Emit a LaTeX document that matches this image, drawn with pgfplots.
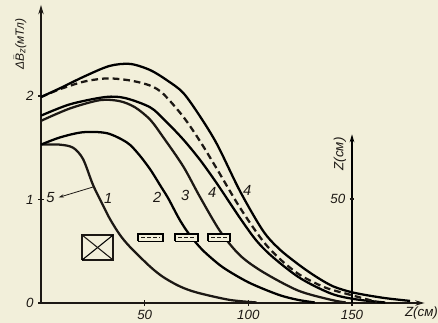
\documentclass[border=0pt]{standalone}
\usepackage{pgfplots}
\pgfplotsset{compat=1.18}
\usepackage{fontspec}
\setmainfont{Liberation Sans}
\usetikzlibrary{arrows.meta}
\definecolor{paper}{RGB}{242,239,218}
\definecolor{ink}{RGB}{28,24,20}

\pgfplotstableread{
x y
0 1.53
9 1.53
15.5 1.50
20.3 1.39
25.1 1.14
30 0.94
33.3 0.81
38 0.66
43 0.54
52.7 0.35
59 0.25
67 0.16
75.4 0.10
91 0.03
104 0.005
}\curveone

\pgfplotstableread{
x y
0 1.53
9.2 1.60
20.3 1.65
31.9 1.64
41.5 1.55
47 1.44
52.7 1.29
58 1.12
61.4 1.01
67 0.80
72 0.65
78 0.51
86 0.37
92 0.29
100 0.20
108 0.13
116 0.07
124 0.03
132 0.005
}\curvetwo

\pgfplotstableread{
x y
0 1.76
14 1.88
28.5 1.96
38 1.95
45.4 1.89
52.7 1.77
59 1.60
68.6 1.32
76.8 1.02
86.5 0.69
96 0.46
107 0.30
124 0.12
140 0.03
147 0.005
}\curvethree

\pgfplotstableread{
x y
0 1.81
14 1.92
31 1.99
40.6 1.98
52.7 1.89
60 1.76
68.6 1.58
76.8 1.38
85 1.15
96 0.82
104 0.60
112 0.44
125 0.24
140 0.09
152 0.035
166 0.005
}\curvefourL

\pgfplotstableread{
x y
0 1.99
9.7 2.07
21 2.14
32 2.17
43 2.15
52.7 2.10
59 2.02
68.6 1.80
76.8 1.56
85 1.29
96 0.92
107 0.60
115.5 0.42
125 0.27
137 0.15
149 0.08
162 0.01
}\curvedash

\pgfplotstableread{
x y
0 1.99
9.7 2.08
21 2.19
33 2.29
43 2.31
52.7 2.25
60.9 2.15
68.6 2.03
76.8 1.80
85 1.53
96 1.08
107 0.70
115 0.52
125 0.36
133 0.25
141 0.16
150.7 0.10
165 0.05
178 0.02
}\curvetop

\begin{document}
\begin{tikzpicture}
\fill[paper] (0,0) rectangle (328.5pt,242.25pt);
\useasboundingbox (0,0) rectangle (328.5pt,242.25pt);
\begin{axis}[
  at={(30.75pt,15pt)}, anchor=south west,
  x=1.555pt, y=77.625pt,
  xmin=0, xmax=185, ymin=0, ymax=2.88,
  axis lines=left,
  axis line style={ink, line width=1.1pt, -{Stealth[length=7pt,width=4pt]}},
  xtick={50,100,150}, ytick={0,1,2},
  tick style={ink, line width=0.8pt},
  major tick length=4pt,
  tick align=center,
  ticklabel style={font=\fontsize{10}{12}\selectfont\itshape, text=ink},
  /pgf/number format/assume math mode=true,
  clip=false,
  cycle list={{ink,solid}},
  every axis plot/.append style={line width=1.7pt, no markers},
]
\addplot+[smooth] table {\curveone};
\addplot+[smooth] table {\curvetwo};
\addplot+[smooth] table {\curvethree};
\addplot+[smooth] table {\curvefourL};
\addplot+[smooth, dash pattern=on 5pt off 3pt] table {\curvedash};
\addplot+[smooth] table {\curvetop};

% crossed coil symbol
\addplot+[line width=1.1pt, sharp plot] coordinates {(19.8,0.415) (34.8,0.415) (34.8,0.657) (19.8,0.657) (19.8,0.415)};
\addplot+[line width=0.8pt, sharp plot] coordinates {(19.8,0.415) (34.8,0.657)};
\addplot+[line width=0.8pt, sharp plot] coordinates {(19.8,0.657) (34.8,0.415)};

% section symbols
\addplot+[line width=1.3pt, sharp plot, fill=paper] coordinates {(46.9,0.595) (58.9,0.595) (58.9,0.665) (46.9,0.665) (46.9,0.595)};
\addplot+[line width=1pt, sharp plot, dash pattern=on 3pt off 1.5pt] coordinates {(48.4,0.63) (57.4,0.63)};
\addplot+[line width=1.3pt, sharp plot, fill=paper] coordinates {(64.7,0.595) (75.8,0.595) (75.8,0.665) (64.7,0.665) (64.7,0.595)};
\addplot+[line width=1pt, sharp plot, dash pattern=on 3pt off 1.5pt] coordinates {(66.2,0.63) (74.3,0.63)};
\addplot+[line width=1.3pt, sharp plot, fill=paper] coordinates {(80.7,0.595) (91.3,0.595) (91.3,0.665) (80.7,0.665) (80.7,0.595)};
\addplot+[line width=1pt, sharp plot, dash pattern=on 3pt off 1.5pt] coordinates {(82.2,0.63) (89.8,0.63)};

% secondary Z axis
\addplot+[line width=1pt, sharp plot, -{Stealth[length=6pt,width=3.5pt]}] coordinates {(150,0) (150,1.63)};
\addplot+[line width=0.8pt, sharp plot] coordinates {(148.8,1.005) (151.2,1.005)};

\node[anchor=east, font=\fontsize{10}{12}\selectfont\itshape, text=ink] at (axis cs:149,1.005) {50};
\node[rotate=90, font=\fontsize{10}{12}\selectfont\itshape, text=ink] at (axis cs:144.2,1.44) {Z(см)};
\node[font=\fontsize{10}{12}\selectfont\itshape, text=ink] at (axis cs:183.5,-0.1) {Z(см)};
\node[rotate=90, font=\fontsize{9}{11}\selectfont\itshape, text=ink] at (axis cs:-10,2.5)
  {Δ\(\bar{\mbox{\itshape B}}_{\mbox{\scriptsize\itshape z}}\)(мТл)};

% curve labels
\node[font=\fontsize{11}{13}\selectfont\itshape, text=ink] at (axis cs:32.4,1.01) {1};
\node[font=\fontsize{11}{13}\selectfont\itshape, text=ink] at (axis cs:56,1.02) {2};
\node[font=\fontsize{11}{13}\selectfont\itshape, text=ink] at (axis cs:69.5,1.04) {3};
\node[font=\fontsize{11}{13}\selectfont\itshape, text=ink] at (axis cs:82.6,1.07) {4};
\node[font=\fontsize{11}{13}\selectfont\itshape, text=ink] at (axis cs:99.5,1.09) {4};
\node[font=\fontsize{11}{13}\selectfont\itshape, text=ink] at (axis cs:4.5,1.02) {5};
\draw[ink, line width=0.6pt, -{Stealth[length=4pt,width=2.5pt]}] (axis cs:25,1.12) -- (axis cs:8.5,1.02);
\end{axis}
\end{tikzpicture}
\end{document}
